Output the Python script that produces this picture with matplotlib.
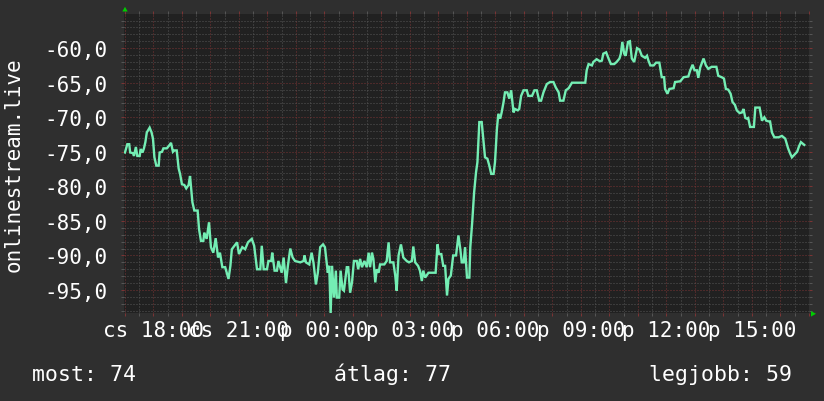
import matplotlib
matplotlib.use("Agg")
import matplotlib.pyplot as plt
from matplotlib.patches import Polygon
from matplotlib.ticker import MultipleLocator, FuncFormatter

# minutes since cs 17:00, signal level
minutes = [
    0, 5, 9, 11, 17, 19, 23, 26, 31, 33, 37, 40, 43, 46, 52, 56, 59, 62, 66, 71,
    73, 78, 81, 88, 93, 97, 101, 104, 109, 113, 116, 120, 125, 129, 134, 137,
    142, 146, 153, 156, 160, 165, 167, 172, 177, 181, 186, 191, 196, 200, 205,
    211, 218, 222, 225, 236, 240, 247, 253, 259, 267, 272, 278, 285, 288, 292,
    299, 302, 308, 310, 315, 320, 323, 330, 334, 339, 343, 348, 353, 358, 369,
    376, 378, 381, 388, 393, 397, 402, 406, 411, 417, 421, 427, 430, 433, 436,
    440, 444, 446, 451, 454, 458, 461, 467, 470, 474, 478, 482, 488, 491, 495,
    499, 504, 509, 513, 516, 520, 523, 527, 530, 534, 537, 546, 551, 555, 558,
    565, 569, 572, 576, 581, 586, 593, 598, 604, 607, 611, 617, 621, 625, 628,
    632, 639, 654, 658, 661, 666, 670, 674, 678, 681, 686, 691, 697, 702, 706,
    709, 713, 716, 720, 725, 727, 731, 735, 739, 742, 746, 751, 755, 758, 763,
    767, 771, 776, 779, 783, 786, 790, 793, 797, 800, 805, 809, 813, 818, 821,
    827, 830, 834, 839, 846, 849, 857, 862, 867, 872, 876, 881, 888, 895, 902,
    907, 913, 916, 923, 928, 934, 941, 969, 972, 976, 983, 986, 993, 1000, 1004,
    1007, 1013, 1018, 1023, 1030, 1035, 1041, 1044, 1047, 1051, 1054, 1059,
    1063, 1067, 1072, 1078, 1083, 1088, 1095, 1099, 1102, 1106, 1113, 1118,
    1125, 1130, 1135, 1137, 1142, 1146, 1155, 1158, 1169, 1176, 1186, 1190,
    1195, 1199, 1204, 1207, 1211, 1218, 1223, 1228, 1235, 1245, 1249, 1256,
    1261, 1265, 1270, 1275, 1279, 1284, 1288, 1294, 1299, 1302, 1306, 1309,
    1312, 1316, 1324, 1327, 1336, 1341, 1346, 1350, 1355, 1358, 1362, 1367,
    1376, 1383, 1390, 1396, 1400, 1404, 1411, 1415, 1419, 1423, 1430,
]
signal = [
    -75.1, -73.9, -73.9, -75.1, -75.2, -75.6, -74.3, -75.6, -75.6, -74.6, -75.1,
    -74.5, -73.6, -72.2, -71.5, -72.2, -73.1, -75.8, -77.0, -77.0, -75.1, -75.0,
    -74.5, -74.5, -74.1, -73.7, -75.0, -74.8, -74.8, -77.4, -78.2, -79.7, -79.8,
    -80.3, -79.8, -78.5,
    -82.3, -83.5, -83.5, -86.2, -87.9, -87.9, -86.7, -87.6, -85.2, -88.8, -89.6,
    -87.5, -90.3, -89.6, -91.7, -91.7, -93.4, -91.5, -89.1, -88.1, -89.8, -88.8,
    -89.1, -88.1, -87.6, -88.6, -92.0, -92.0, -88.6, -92.0, -92.0, -90.8, -90.8,
    -89.6, -92.2, -92.2, -90.8, -92.5, -90.3, -94.0, -91.5, -89.0, -90.3, -90.8,
    -91.0, -90.8, -90.0, -91.0, -91.3, -89.6, -91.1, -94.2, -92.5, -88.8, -88.4,
    -88.8, -92.5, -91.5, -98.4, -91.5, -96.1, -92.2, -96.1, -96.1, -92.2, -94.9,
    -95.1, -91.7, -91.7, -95.4, -93.9, -90.8, -90.8, -92.0, -90.5, -91.7, -90.8,
    -91.7, -89.6, -91.7, -89.6, -90.5, -93.9, -92.0, -92.5, -91.3, -91.3, -90.8,
    -88.1, -91.0, -91.0, -92.9, -95.1, -90.0, -88.4, -90.3, -90.8, -91.0, -90.8,
    -88.7, -91.0, -91.5, -92.2, -93.7, -92.2, -93.2, -92.5, -92.5, -88.4, -89.8,
    -89.8, -91.5, -91.5, -95.8, -93.4, -92.9, -90.0, -90.0, -87.1, -89.1, -91.0,
    -91.0, -88.8, -93.2, -93.2, -88.8, -85.2, -80.9, -78.0, -76.5, -70.7, -70.7,
    -73.6, -75.8, -76.0, -77.0, -78.2, -78.2, -76.5, -71.7, -69.5, -70.2, -69.3,
    -67.8, -66.4, -66.4, -67.3, -66.1, -69.3, -68.8, -69.0, -68.8, -66.9, -66.1,
    -66.1, -66.9, -66.9, -66.1, -66.1, -67.6, -67.6, -66.4, -65.2, -64.9, -64.9,
    -65.7, -66.4, -67.6, -67.6, -66.1, -65.8, -65.0, -65.0, -63.2, -62.3, -62.5,
    -62.0, -61.6, -61.9, -61.8, -60.8, -60.6, -61.5, -62.3, -62.3, -62.0, -61.5,
    -60.8, -59.1, -60.8, -61.1, -59.1, -59.0, -61.5, -62.0, -60.0, -60.2, -61.1,
    -61.4, -61.1, -61.8, -62.5, -62.5, -62.1, -62.1, -64.2, -64.2, -65.9, -66.6,
    -65.9, -65.8, -64.9, -64.8, -64.2, -64.1, -63.2, -62.4, -63.2, -63.2, -64.3,
    -62.8, -61.5, -62.5, -63.0, -62.7, -62.7, -64.0, -64.2, -64.4, -65.9, -66.0,
    -66.6, -67.8, -68.2, -69.0, -69.4, -69.3, -68.8, -70.1, -70.2, -70.1, -71.4,
    -71.4, -68.6, -68.6, -70.5, -70.0, -70.5, -70.6, -70.6, -72.2, -72.9, -72.9,
    -72.7, -73.1, -74.5, -75.2, -75.8, -75.3, -75.0, -74.2, -73.6, -74.0,
]

tick_minutes = [60, 240, 420, 600, 780, 960, 1140, 1320]
tick_labels = ["cs 18:00", "cs 21:00", "p 00:00", "p 03:00",
               "p 06:00", "p 09:00", "p 12:00", "p 15:00"]

legend_names = ["most", "átlag", "legjobb"]
legend_values = [74, 77, 59]

bg = "#2f2f2f"
plot_bg = "#212121"
minor_col = "#555555"
major_col = "#7a3434"
line_col = "#74eeb4"
txt_col = "#ffffff"
arrow_col = "#00cc00"

plt.rcParams["font.family"] = ["DejaVu Sans Mono", "DejaVu Sans"]

W, H = 824, 402
fig = plt.figure(figsize=(W / 100, H / 100), dpi=100, facecolor=bg)

def px(x, y):
    return x / W, 1 - y / H

left, right, top, bottom = 124, 809, 15.3, 313.8
ax = fig.add_axes([left / W, 1 - bottom / H, (right - left) / W, (bottom - top) / H])
ax.set_facecolor(plot_bg)
for s in ax.spines.values():
    s.set_visible(False)

ax.plot(minutes, signal, color=line_col, lw=1.7, solid_joinstyle="miter", zorder=3)

ax.set_xlim(-2, 1440)
ax.set_ylim(-98.3, -55.1)

label_map = dict(zip(tick_minutes, tick_labels))
ax.xaxis.set_major_locator(MultipleLocator(60))
ax.xaxis.set_minor_locator(MultipleLocator(30))
ax.xaxis.set_major_formatter(FuncFormatter(lambda v, p: label_map.get(int(round(v)), "")))
ax.yaxis.set_major_locator(MultipleLocator(5))
ax.yaxis.set_minor_locator(MultipleLocator(1))
ax.yaxis.set_major_formatter(FuncFormatter(lambda v, p: f"{v:.1f}".replace(".", ",")))

dots = (0, (1, 2))
ax.grid(which="minor", color=minor_col, ls=dots, lw=0.72, zorder=1)
ax.grid(which="major", color=major_col, ls=dots, lw=0.72, zorder=2)
ax.set_axisbelow(True)

ax.tick_params(axis="x", which="major", direction="out", length=2, width=0.72,
               color=major_col, labelcolor=txt_col, labelsize=15, pad=3.5, top=True)
ax.tick_params(axis="x", which="minor", direction="out", length=2, width=0.72,
               color=minor_col, top=True)
ax.tick_params(axis="y", which="major", direction="out", length=2, width=0.72,
               color=major_col, labelcolor=txt_col, labelsize=15, pad=10, right=True)
ax.tick_params(axis="y", which="minor", direction="out", length=2, width=0.72,
               color=minor_col, right=True)

# axis arrows
fig.add_artist(Polygon([px(122.3, 12.5), px(127.7, 12.5), px(125, 7.8)], closed=True,
                       transform=fig.transFigure, color=arrow_col, lw=0))
fig.add_artist(Polygon([px(811, 312), px(811, 317.6), px(816, 314.8)], closed=True,
                       transform=fig.transFigure, color=arrow_col, lw=0))

# vertical title
fig.text(*px(14, 165), "onlinestream.live", rotation=90, ha="center", va="center",
         color=txt_col, fontsize=15)

# legend line
for (x0, name, val) in zip([32, 334, 649], legend_names, legend_values):
    fig.text(*px(x0, 381), f"{name}: {val}", ha="left", va="baseline",
             color=txt_col, fontsize=15.5)

fig.savefig("out.png", dpi=100, facecolor=bg)
